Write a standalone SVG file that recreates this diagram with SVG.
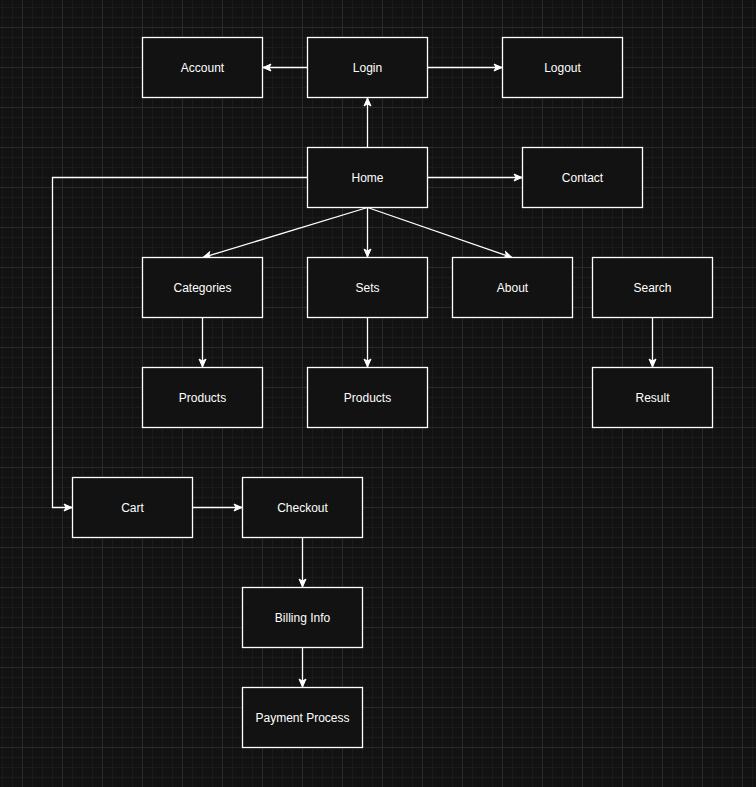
<svg xmlns="http://www.w3.org/2000/svg" width="756" height="787" viewBox="0 0 756 787">
  <defs>
    <pattern id="minor" x="2" y="7" width="10" height="10" patternUnits="userSpaceOnUse">
      <path d="M0 0.5H10M0.5 0V10" fill="none" stroke="#1b1b1b" stroke-width="1"/>
    </pattern>
    <pattern id="major" x="2" y="7" width="40" height="40" patternUnits="userSpaceOnUse">
      <path d="M0 20.5H40M20.5 0V40" fill="none" stroke="#2a2a2a" stroke-width="1"/>
    </pattern>
    <marker id="arrow" viewBox="0 0 10 10" refX="9" refY="5" markerWidth="10" markerHeight="10" markerUnits="userSpaceOnUse" orient="auto">
      <path d="M1 1.5L9 5L1 8.5L3 5Z" fill="#ffffff" stroke="#ffffff" stroke-width="1" stroke-linejoin="miter"/>
    </marker>
  </defs>
  <style>
    .box rect { fill: #121212; stroke: #ffffff; stroke-width: 1.3; }
    .box text { fill: #ffffff; font-family: "Liberation Sans", Arial, Helvetica, sans-serif; font-size: 12px; text-anchor: middle; dominant-baseline: central; }
    .edge { fill: none; stroke: #ffffff; stroke-width: 1.3; marker-end: url(#arrow); }
  </style>

  <!-- canvas background with grid -->
  <rect width="756" height="787" fill="#121212"/>
  <rect width="756" height="787" fill="url(#minor)"/>
  <rect width="756" height="787" fill="url(#major)"/>

  <!-- connectors -->
  <g id="edges">
    <path class="edge" d="M307.5 67.5H263"/>
    <path class="edge" d="M427.5 67.5H502"/>
    <path class="edge" d="M367.5 147.5V98"/>
    <path class="edge" d="M427.5 177.5H522"/>
    <path class="edge" d="M367.5 207.5L203 257.5"/>
    <path class="edge" d="M367.5 207.5V257"/>
    <path class="edge" d="M367.5 207.5L512 257.5"/>
    <path class="edge" d="M307.5 177.5H52.5V507.5H72"/>
    <path class="edge" d="M202.5 317.5V367"/>
    <path class="edge" d="M367.5 317.5V367"/>
    <path class="edge" d="M652.5 317.5V367"/>
    <path class="edge" d="M192.5 507.5H242"/>
    <path class="edge" d="M302.5 537.5V587"/>
    <path class="edge" d="M302.5 647.5V687"/>
  </g>

  <!-- nodes -->
  <g id="account" class="box"><rect x="142.5" y="37.5" width="120" height="60"/><text x="202.5" y="67.5">Account</text></g>
  <g id="login" class="box"><rect x="307.5" y="37.5" width="120" height="60"/><text x="367.5" y="67.5">Login</text></g>
  <g id="logout" class="box"><rect x="502.5" y="37.5" width="120" height="60"/><text x="562.5" y="67.5">Logout</text></g>
  <g id="home" class="box"><rect x="307.5" y="147.5" width="120" height="60"/><text x="367.5" y="177.5">Home</text></g>
  <g id="contact" class="box"><rect x="522.5" y="147.5" width="120" height="60"/><text x="582.5" y="177.5">Contact</text></g>
  <g id="categories" class="box"><rect x="142.5" y="257.5" width="120" height="60"/><text x="202.5" y="287.5">Categories</text></g>
  <g id="sets" class="box"><rect x="307.5" y="257.5" width="120" height="60"/><text x="367.5" y="287.5">Sets</text></g>
  <g id="about" class="box"><rect x="452.5" y="257.5" width="120" height="60"/><text x="512.5" y="287.5">About</text></g>
  <g id="search" class="box"><rect x="592.5" y="257.5" width="120" height="60"/><text x="652.5" y="287.5">Search</text></g>
  <g id="category-products" class="box"><rect x="142.5" y="367.5" width="120" height="60"/><text x="202.5" y="397.5">Products</text></g>
  <g id="set-products" class="box"><rect x="307.5" y="367.5" width="120" height="60"/><text x="367.5" y="397.5">Products</text></g>
  <g id="result" class="box"><rect x="592.5" y="367.5" width="120" height="60"/><text x="652.5" y="397.5">Result</text></g>
  <g id="cart" class="box"><rect x="72.5" y="477.5" width="120" height="60"/><text x="132.5" y="507.5">Cart</text></g>
  <g id="checkout" class="box"><rect x="242.5" y="477.5" width="120" height="60"/><text x="302.5" y="507.5">Checkout</text></g>
  <g id="billing-info" class="box"><rect x="242.5" y="587.5" width="120" height="60"/><text x="302.5" y="617.5">Billing Info</text></g>
  <g id="payment-process" class="box"><rect x="242.5" y="687.5" width="120" height="60"/><text x="302.5" y="717.5">Payment Process</text></g>
</svg>
